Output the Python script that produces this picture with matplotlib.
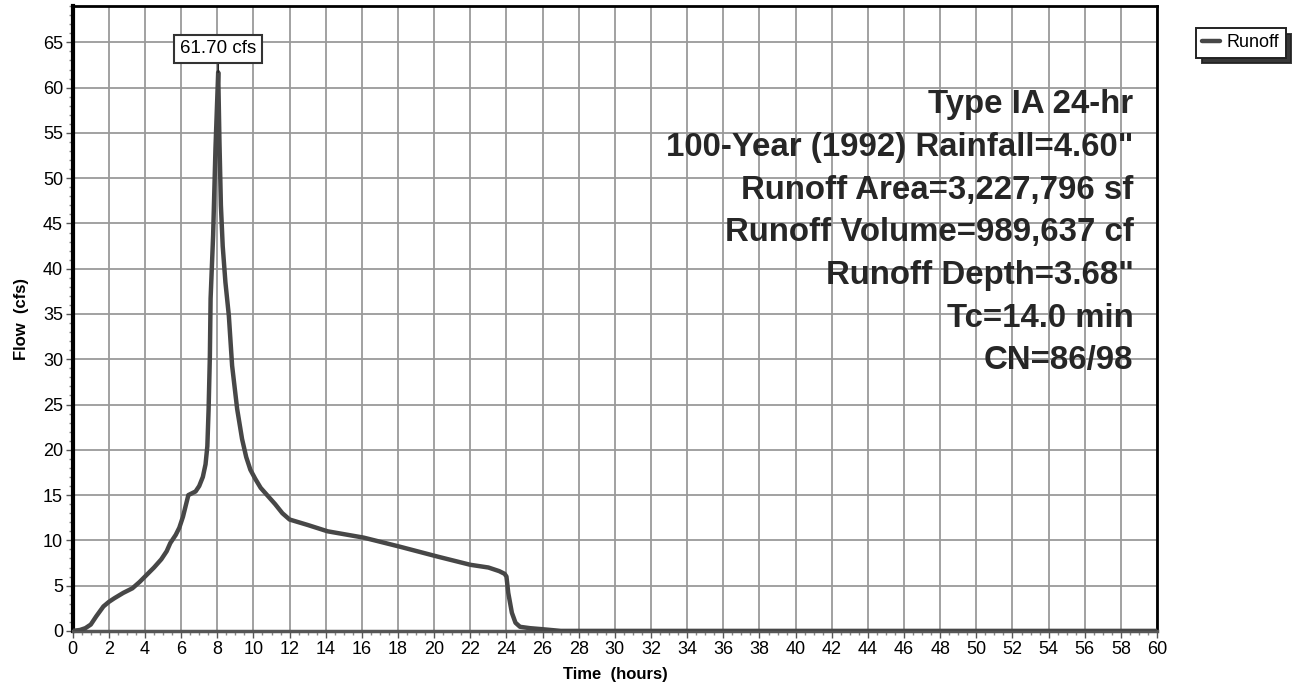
import matplotlib
matplotlib.use("Agg")
import matplotlib.pyplot as plt
from matplotlib.ticker import MultipleLocator

plt.rcParams['font.family'] = ['Liberation Sans', 'DejaVu Sans']

# Hydrograph data (time in hours, flow in cfs)
time_hr = [0, 0.4, 0.7, 1.0, 1.3, 1.7, 2.0, 2.3, 2.8, 3.3, 3.7, 4.1, 4.5, 4.9,
           5.2, 5.4, 5.7, 5.9, 6.1, 6.4, 6.6, 6.8, 7.0, 7.2, 7.35, 7.45,
           7.52, 7.59, 7.63, 7.77, 7.9, 8.05, 8.12, 8.2, 8.3, 8.45, 8.64, 8.82,
           9.1, 9.37, 9.6, 9.83, 10.1, 10.4, 10.8, 11.2, 11.6, 12.0, 13.0, 14.1,
           16.1, 18.1, 20.2, 22.0, 23.0, 23.6, 23.9, 24.0, 24.1, 24.3, 24.5,
           24.75, 25.3, 25.9, 27.0, 60.0]
flow_cfs = [0, 0.1, 0.3, 0.7, 1.6, 2.7, 3.2, 3.6, 4.2, 4.7, 5.4, 6.2, 7.0, 7.9,
            8.8, 9.7, 10.6, 11.4, 12.6, 15.0, 15.2, 15.4, 16.0, 17.0, 18.4, 20.4,
            24.5, 30.4, 36.7, 43.7, 53.3, 61.7, 54.0, 47.0, 42.5, 38.5, 34.8, 29.3,
            24.5, 21.2, 19.2, 17.8, 16.8, 15.8, 14.9, 14.0, 13.0, 12.3, 11.7, 11.0,
            10.3, 9.3, 8.2, 7.3, 7.0, 6.6, 6.3, 6.0, 4.2, 2.0, 0.9,
            0.45, 0.3, 0.2, 0.0, 0.0]

peak_label = "61.70 cfs"
peak_time = 8.05
peak_flow = 61.7

info_lines = ["Type IA 24-hr",
              "100-Year (1992) Rainfall=4.60\"",
              "Runoff Area=3,227,796 sf",
              "Runoff Volume=989,637 cf",
              "Runoff Depth=3.68\"",
              "Tc=14.0 min",
              "CN=86/98"]

fig = plt.figure(figsize=(12.96, 6.85), dpi=100)
ax = fig.add_axes([0.0561, 0.079, 0.8367, 0.912])

ax.plot(time_hr, flow_cfs, color='#474747', lw=3.2, label='Runoff', zorder=3,
        solid_joinstyle='round', solid_capstyle='round')

ax.set_xlim(0, 60)
ax.set_ylim(0, 69)
ax.xaxis.set_major_locator(MultipleLocator(2))
ax.xaxis.set_minor_locator(MultipleLocator(0.5))
ax.yaxis.set_major_locator(MultipleLocator(5))
ax.yaxis.set_minor_locator(MultipleLocator(1))
ax.grid(True, which='major', color='#9a9a9a', lw=1.3)
ax.set_axisbelow(True)

ax.tick_params(axis='both', which='major', labelsize=13, length=5, width=1, color='#555555', pad=2)
ax.tick_params(axis='both', which='minor', length=3, width=1, color='#888888')

ax.spines['left'].set_linewidth(3)
ax.spines['bottom'].set_linewidth(2.5)
ax.spines['bottom'].set_color('#555555')
ax.spines['top'].set_linewidth(2)
ax.spines['right'].set_linewidth(2)

ax.set_xlabel("Time  (hours)", fontsize=12, fontweight='bold', labelpad=7)
ax.set_ylabel("Flow  (cfs)", fontsize=12, fontweight='bold', labelpad=10)

ax.annotate(peak_label, xy=(peak_time, peak_flow), xytext=(peak_time, 64.3),
            ha='center', va='center', fontsize=13.5,
            bbox=dict(boxstyle='square,pad=0.3', fc='white', ec='#333333', lw=1.5),
            arrowprops=dict(arrowstyle='-', color='#222222', lw=1.2,
                            shrinkA=0, shrinkB=0), zorder=5)

y0 = 58.1
dy = 4.71
for i, line in enumerate(info_lines):
    ax.text(58.7, y0 - i * dy, line, ha='right', va='center', fontsize=23.8,
            fontweight='bold', color='#262626', zorder=4)

leg = fig.legend(loc='upper right', bbox_to_anchor=(0.992, 0.959), fontsize=13,
                 frameon=True, fancybox=False, shadow={'ox': 4, 'oy': -4, 'color': '#222222', 'alpha': 0.9},
                 handlelength=1.0, handletextpad=0.35, borderpad=0.35, borderaxespad=0)
leg.get_frame().set_edgecolor('#222222')
leg.get_frame().set_linewidth(1.4)

fig.savefig("out.png", dpi=100)
